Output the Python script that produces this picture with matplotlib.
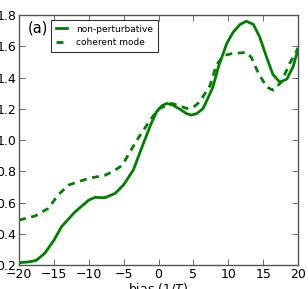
import matplotlib
matplotlib.use("Agg")
import matplotlib.pyplot as plt

# non-perturbative (solid)
np_x = [-20, -18.5, -17.5, -16.3, -15, -13.9, -12, -10, -9.1, -7.7, -6.2, -5, -3.6,
        -2.5, -1.2, -0.3, 0.5, 1.2, 2, 3.1, 4.0, 4.7, 5.5, 6.4, 7.2, 7.8, 8.6, 9.8,
        10.7, 11.7, 12.6, 13.6, 14.5, 15.5, 16.4, 17.4, 18.4, 19.3, 20]
np_y = [0.217, 0.222, 0.232, 0.277, 0.36, 0.447, 0.54, 0.617, 0.634, 0.632, 0.66, 0.715, 0.81,
        0.94, 1.09, 1.18, 1.22, 1.235, 1.225, 1.197, 1.17, 1.16, 1.17, 1.203, 1.28, 1.34, 1.47, 1.62,
        1.69, 1.74, 1.76, 1.74, 1.66, 1.53, 1.42, 1.37, 1.39, 1.47, 1.58]

# coherent mode (dashed)
cm_x = [-20, -17.7, -15.8, -14.4, -12.9, -10, -7.7, -6.5, -5.5, -4.8, -3.1, -1.2, 0,
        1.9, 3.0, 4.0, 5.0, 5.9, 7.4, 8.3, 9.3, 10.7, 12.6, 13.3, 14.3, 15.5, 16.4,
        17.6, 18.8, 19.8, 20]
cm_y = [0.489, 0.515, 0.564, 0.649, 0.713, 0.756, 0.775, 0.80, 0.83, 0.87, 1.0, 1.128, 1.2,
        1.235, 1.22, 1.203, 1.21, 1.245, 1.35, 1.48, 1.54, 1.555, 1.56, 1.53, 1.43, 1.34, 1.32,
        1.37, 1.49, 1.57, 1.59]

xticks = [-20, -15, -10, -5, 0, 5, 10, 15, 20]
yticks = [0.2, 0.4, 0.6, 0.8, 1.0, 1.2, 1.4, 1.6, 1.8]

fig = plt.figure(figsize=(3.08, 2.89), dpi=100)
ax = fig.add_axes([19/308, 1 - 265.3/289, (298-19)/308, (265.3-15)/289])
green = (0, 0.5, 0)
ax.plot(np_x, np_y, color=green, lw=2, label="non-perturbative")
ax.plot(cm_x, cm_y, color=green, lw=2, ls=(0, (2.5, 2)), label="coherent mode")
ax.set_xlim(-20, 20)
ax.set_ylim(0.2, 1.8)
ax.set_xticks(xticks)
ax.set_yticks(yticks)
ax.set_yticklabels([f"{v:.1f}" for v in yticks])
ax.tick_params(direction="in", top=True, right=True, labelsize=9, length=4, width=0.6, pad=2,
               colors="#555555", labelcolor="black")
for s in ax.spines.values():
    s.set_color("#555555")
    s.set_linewidth(1)
ax.set_xlabel("bias $(1/T)$", fontsize=9, labelpad=0)
ax.text(0.03, 0.98, "(a)", transform=ax.transAxes, fontsize=10.5, va="top", ha="left")
leg = ax.legend(loc="upper left", bbox_to_anchor=(0.115, 0.98), fontsize=6.5, frameon=True,
                fancybox=False, handlelength=1.3, handletextpad=1.0, borderpad=0.5,
                labelspacing=0.5, borderaxespad=0)
leg.get_frame().set_edgecolor("black")
leg.get_frame().set_linewidth(0.8)
fig.savefig("out.png", dpi=100)
